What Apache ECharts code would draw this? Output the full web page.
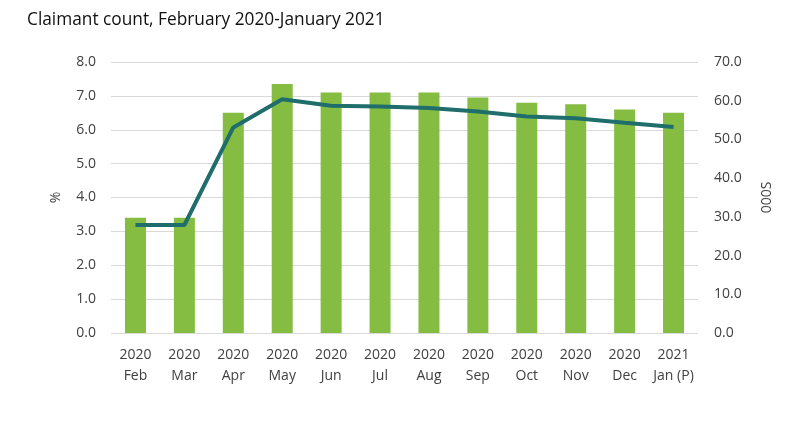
<!DOCTYPE html>
<html>
<head>
<meta charset="utf-8">
<script src="https://cdn.jsdelivr.net/npm/echarts@6/dist/echarts.min.js"></script>
<style>
  html, body { margin: 0; padding: 0; background: #fff; }
  #chart { width: 805px; height: 432px; }
</style>
</head>
<body>
<div id="chart"></div>
<script>
// months on the x axis (two-line labels)
const years = ['2020', '2020', '2020', '2020', '2020', '2020', '2020', '2020', '2020', '2020', '2020', '2021'];
const months = ['Feb', 'Mar', 'Apr', 'May', 'Jun', 'Jul', 'Aug', 'Sep', 'Oct', 'Nov', 'Dec', 'Jan (P)'];

// claimant count rate, % (bars, left axis)
const ratePct = [3.4, 3.4, 6.5, 7.35, 7.1, 7.1, 7.1, 6.95, 6.8, 6.75, 6.6, 6.5];
// claimant count, thousands (line, right axis)
const countK = [27.9, 27.9, 53.1, 60.4, 58.7, 58.5, 58.1, 57.2, 55.9, 55.5, 54.3, 53.2];

const categories = years.map((y, i) => y + '\n' + months[i]);

const font = 'Open Sans';
const labelColor = '#404040';

const chart = echarts.init(document.getElementById('chart'));

chart.setOption({
    animation: false,
    title: {
        text: 'Claimant count, February 2020-January 2021',
        left: 22,
        top: 7,
        textStyle: { fontFamily: font, fontSize: 17.3, fontWeight: 'normal', color: '#111' }
    },
    grid: { left: 111, right: 107, top: 62, bottom: 99 },
    xAxis: {
        type: 'category',
        data: categories,
        axisLine: { show: false },
        axisTick: { show: false },
        axisLabel: { interval: 0, fontFamily: font, fontSize: 14, color: labelColor, lineHeight: 21, margin: 12 }
    },
    yAxis: [
        {
            type: 'value',
            min: 0, max: 8, interval: 1,
            name: '%',
            nameLocation: 'middle',
            nameGap: 48,
            nameRotate: 90,
            nameTextStyle: { fontFamily: font, fontSize: 14, color: labelColor },
            axisLabel: {
                fontFamily: font, fontSize: 14, color: labelColor, margin: 15,
                formatter: v => v.toFixed(1)
            },
            splitLine: { lineStyle: { color: '#d9d9d9', width: 1 } }
        },
        {
            type: 'value',
            position: 'right',
            min: 0, max: 70, interval: 10,
            name: '000S',
            nameLocation: 'middle',
            nameGap: 62,
            nameRotate: 90,
            nameTextStyle: { fontFamily: font, fontSize: 14, color: labelColor },
            axisLabel: {
                fontFamily: font, fontSize: 14, color: labelColor, margin: 16,
                formatter: v => v.toFixed(1)
            },
            splitLine: { show: false }
        }
    ],
    series: [
        {
            type: 'bar',
            yAxisIndex: 0,
            data: ratePct,
            barWidth: 21,
            itemStyle: { color: '#84bd41' }
        },
        {
            type: 'line',
            yAxisIndex: 1,
            data: countK,
            symbol: 'none',
            lineStyle: { color: '#1f6e6b', width: 4 }
        }
    ]
});
</script>
</body>
</html>
